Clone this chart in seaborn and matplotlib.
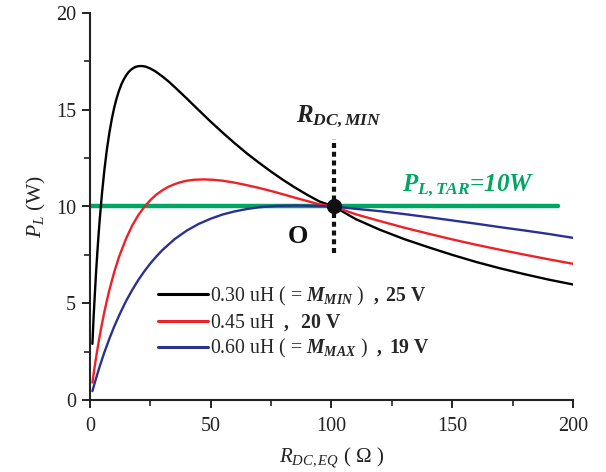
import numpy as np
import pandas as pd
import seaborn as sns
import matplotlib
matplotlib.use("Agg")
import matplotlib.pyplot as plt
from matplotlib.lines import Line2D

# ---- data ----
x_black = [1, 1.5, 2, 2.5, 3, 3.5, 4, 5, 6, 7, 8, 9, 10, 11, 12, 13, 14, 15, 16, 17, 18, 19, 20,
           21, 22, 23, 25, 27, 30, 33, 35, 40, 45, 50, 55, 60, 65, 70, 75, 80, 85, 90, 95, 101,
           110, 120, 130, 140, 150, 160, 170, 180, 190, 200]
y_black = [2.9, 4.3, 5.45, 6.56, 7.55, 8.45, 9.28, 10.72, 11.93, 12.95, 13.79, 14.5, 15.09, 15.58,
           15.98, 16.31, 16.57, 16.78, 16.95, 17.07, 17.16, 17.22, 17.25, 17.26, 17.25, 17.23,
           17.13, 16.99, 16.72, 16.41, 16.18, 15.59, 14.98, 14.38, 13.81, 13.26, 12.74, 12.26,
           11.8, 11.37, 10.97, 10.6, 10.26, 10.0,
           9.35, 8.8, 8.32, 7.9, 7.5, 7.13, 6.8, 6.5, 6.22, 5.97]

x_red = [1, 2, 3, 4, 5, 6, 7, 8, 10, 12, 15, 17.5, 20, 22.5, 25, 27.5, 30, 32.5, 35, 37.5, 40,
         43, 47, 51, 55, 60, 65, 70, 75, 80, 85, 90, 95, 101,
         110, 120, 130, 140, 150, 160, 170, 180, 190, 200]
y_red = [0.9, 1.78, 2.57, 3.3, 3.96, 4.58, 5.14, 5.67, 6.6, 7.39, 8.36, 9.02, 9.55, 9.98, 10.33,
         10.62, 10.84, 11.02, 11.15, 11.26, 11.33, 11.38, 11.4, 11.38, 11.33, 11.23, 11.1, 10.96,
         10.8, 10.63, 10.45, 10.28, 10.11, 10.0,
         9.6, 9.25, 8.91, 8.6, 8.3, 8.02, 7.76, 7.51, 7.27, 7.04]

x_blue = [1, 2, 3, 4, 5, 6, 8, 10, 12.5, 15, 17.5, 20, 22.5, 25, 27.5, 30, 35, 40, 45, 50, 55,
          60, 65, 70, 77, 85, 93, 101,
          110, 120, 130, 140, 150, 160, 170, 180, 190, 200]
y_blue = [0.46, 0.9, 1.32, 1.73, 2.11, 2.48, 3.16, 3.79, 4.49, 5.13, 5.69, 6.2, 6.65, 7.06, 7.42,
          7.75, 8.31, 8.75, 9.1, 9.37, 9.59, 9.75, 9.87, 9.96, 10.03, 10.05, 10.03, 10.0,
          9.88, 9.76, 9.61, 9.45, 9.28, 9.11, 8.93, 8.76, 8.58, 8.38]

series_labels = [r"0.30 uH ( = $\mathbfit{M}_{\mathbfit{MIN}}$ )  $\mathbf{,\ 25\ V}$",
                 r"0.45 uH  $\mathbf{,\ \ 20\ V}$",
                 r"0.60 uH ( = $\mathbfit{M}_{\mathbfit{MAX}}$ )  $\mathbf{,\ 19\ V}$"]
colors = ["#000000", "#ec2227", "#2b3192"]

target_x = [0, 194]
target_y = [10, 10]
op_x, op_y = 101, 10
dash_y = [7.6, 13.5]

x_ticks = [0, 50, 100, 150, 200]
y_ticks = [0, 5, 10, 15, 20]

# ---- style ----
sns.set_theme(style="ticks")
plt.rcParams["font.family"] = ["Liberation Serif", "DejaVu Serif"]
plt.rcParams["mathtext.fontset"] = "custom"
plt.rcParams["mathtext.rm"] = "Liberation Serif"
plt.rcParams["mathtext.it"] = "Liberation Serif:italic"
plt.rcParams["mathtext.bf"] = "Liberation Serif:bold"
plt.rcParams["mathtext.bfit"] = "Liberation Serif:bold:italic"

fig = plt.figure(figsize=(6.06, 4.72), dpi=100)
ax = fig.add_axes([0.1485, 0.1525, 0.797, 0.82])

frames = []
for name, xs, ys in [("black", x_black, y_black), ("red", x_red, y_red), ("blue", x_blue, y_blue)]:
    frames.append(pd.DataFrame({"R": xs, "P": ys, "s": name}))
df = pd.concat(frames, ignore_index=True)

# target line
ax.plot(target_x, target_y, color="#00a664", lw=3.2, solid_capstyle="round", zorder=1)

sns.lineplot(data=df, x="R", y="P", hue="s", palette=colors, lw=1.7, ax=ax,
             legend=False, sort=False, zorder=3)
for ln in ax.lines:
    ln.set_solid_joinstyle("round")

ax.plot([op_x, op_x], dash_y, color="#111111", lw=3.0, linestyle=(0, (1.2, 0.9)), zorder=4)
ax.plot([op_x], [op_y], "o", color="#111111", ms=10, zorder=5)

ax.text(103, 14.65, r"$\mathbfit{R}_{\mathbfit{DC,MIN}}$", ha="center", va="center",
        fontsize=18, color="#222222")
ax.text(156.5, 11.05, r"$\mathbfit{P}_{\mathbfit{L,TAR}}$=10W", ha="center", va="center",
        fontsize=18, color="#00a664", fontweight="bold", fontstyle="italic")
ax.text(86, 8.45, "O", ha="center", va="center", fontsize=19, fontweight="bold", color="#111111")

handles = [Line2D([0], [0], color=c, lw=2.2) for c in colors]
leg = ax.legend(handles, series_labels, loc="upper left", bbox_to_anchor=(0.125, 0.318),
                frameon=False, fontsize=14.2, handlelength=2.5, handletextpad=0.1,
                labelspacing=0.22, borderaxespad=0)

ax.set_xlim(0, 200)
ax.set_ylim(0, 20)
ax.set_xticks(x_ticks)
ax.set_yticks(y_ticks)
ax.set_xticks([25, 75, 125, 175], minor=True)
ax.set_yticks([2.5, 7.5, 12.5, 17.5], minor=True)
ax.tick_params(axis="both", which="major", direction="out", length=6, width=1.4,
               labelsize=14.5, colors="#222222")
ax.tick_params(axis="x", which="major", pad=6)
ax.tick_params(axis="y", which="major", pad=4)
ax.tick_params(axis="both", which="minor", direction="out", length=4, width=1.2, colors="#222222")
for s in ["left", "bottom"]:
    ax.spines[s].set_linewidth(1.5)
    ax.spines[s].set_color("#222222")
sns.despine(ax=ax)

ax.set_xlabel(r"$R_{DC,EQ}$ ( $\Omega$ )", fontsize=15, color="#222222", labelpad=7)
ax.set_ylabel(r"$P_L$ (W)", fontsize=15.5, color="#222222", labelpad=6)

fig.savefig("out.png", dpi=100)
